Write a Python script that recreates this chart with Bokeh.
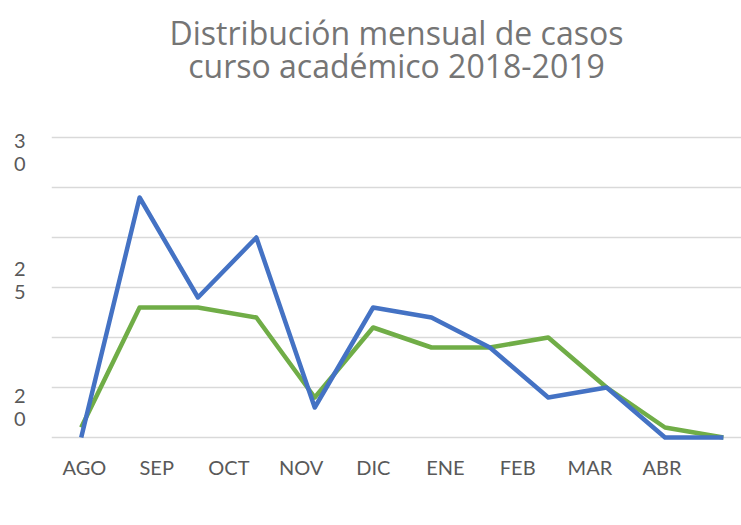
from bokeh.plotting import figure
from bokeh.models import (Range1d, LinearAxis, FixedTicker, Grid, Legend, LegendItem, Title)
from bokeh.embed import file_html
from bokeh.resources import INLINE

# ---- data ----
months_data = ["AGO", "SEP", "OCT", "NOV", "DIC", "ENE", "FEB", "MAR", "ABR", "MAY", "JUN", "JUL"]
ma_values = [1, 13, 13, 12, 4, 11, 9, 9, 10, 5, 1, 0]
se_values = [0, 24, 14, 20, 3, 13, 12, 9, 4, 5, 0, 0]
x_tick_labels = ["AGO", "SEP", "OCT", "NOV", "DIC", "ENE", "FEB", "MAR", "ABR"]
y_grid_values = [0, 5, 10, 15, 20, 25, 30]
y_tick_labels = ["2\n0", "2\n5", "3\n0"]
title_lines = ["Distribución mensual de casos", "curso académico 2018-2019"]
series_names = ["MA", "SE"]

FONT = "Lato"
TITLE_FONT = "Open Sans"
GREEN = "#70AD47"
BLUE = "#4472C4"
LABEL_COLOR = "#595959"
TITLE_COLOR = "#757575"

xs = list(range(len(months_data)))

p = figure(frame_width=690, frame_height=312, output_backend="svg", toolbar_location=None,
           x_range=Range1d(-0.509, 11.31), y_range=Range1d(-0.6, 30.6),
           x_axis_location=None, y_axis_location=None,
           min_border_left=51, min_border_right=0, min_border_top=131, min_border_bottom=58)
p.outline_line_color = None
p.background_fill_color = "white"
p.border_fill_color = "white"
p.xgrid.grid_line_color = None
p.ygrid.grid_line_color = None

# gridlines
grid = Grid(dimension=1, ticker=FixedTicker(ticks=y_grid_values),
            grid_line_color="#D9D9D9", grid_line_width=1.5)
p.add_layout(grid)

# category label axis (evenly spaced labels)
p.extra_x_ranges = {"lab": Range1d(-0.457, 9.10)}
xax = LinearAxis(x_range_name="lab", ticker=FixedTicker(ticks=list(range(len(x_tick_labels)))),
                 major_label_overrides={i: t for i, t in enumerate(x_tick_labels)})
xax.axis_line_color = None
xax.major_tick_line_color = None
xax.minor_tick_line_color = None
xax.major_label_standoff = 5
xax.major_label_text_font = FONT
xax.major_label_text_font_size = "20px"
xax.major_label_text_color = LABEL_COLOR
p.add_layout(xax, "below")

# value label axis
p.extra_y_ranges = {"ylab": Range1d(-0.29, 2.157)}
yax = LinearAxis(y_range_name="ylab", ticker=FixedTicker(ticks=list(range(len(y_tick_labels)))),
                 major_label_overrides={i: t for i, t in enumerate(y_tick_labels)})
yax.axis_line_color = None
yax.major_tick_line_color = None
yax.minor_tick_line_color = None
yax.major_label_standoff = 20
yax.major_label_text_font = FONT
yax.major_label_text_font_size = "20px"
yax.major_label_text_line_height = 0.96
yax.major_label_text_color = LABEL_COLOR
p.add_layout(yax, "left")

r_ma = p.line(xs, ma_values, line_color=GREEN, line_width=4.5, line_join="round")
r_se = p.line(xs, se_values, line_color=BLUE, line_width=4.5, line_join="round")

legend = Legend(items=[LegendItem(label=series_names[0], renderers=[r_ma]),
                       LegendItem(label=series_names[1], renderers=[r_se])],
                orientation="horizontal", location=(251, 0))
legend.border_line_color = None
legend.background_fill_alpha = 0
legend.label_text_font = FONT
legend.label_text_font_size = "20px"
legend.label_text_color = LABEL_COLOR
legend.glyph_width = 41
legend.label_standoff = 5
legend.spacing = 24
legend.padding = 0
legend.margin = 0
p.add_layout(legend, "below")

# titles: spacer nearest the frame, then line 2, then line 1
spacer = Title(text=" ", align="center", text_font=TITLE_FONT, text_font_size="31.5px",
               text_color=TITLE_COLOR, standoff=0)
t2 = Title(text=title_lines[1], align="center", text_font=TITLE_FONT, text_font_size="32px",
           text_color=TITLE_COLOR, text_font_style="normal", standoff=0)
t1 = Title(text=title_lines[0], align="center", text_font=TITLE_FONT, text_font_size="32px",
           text_color=TITLE_COLOR, text_font_style="normal", standoff=-24)
p.add_layout(spacer, "above")
p.add_layout(t2, "above")
p.add_layout(t1, "above")

open("out.html", "w").write(file_html(p, INLINE))
